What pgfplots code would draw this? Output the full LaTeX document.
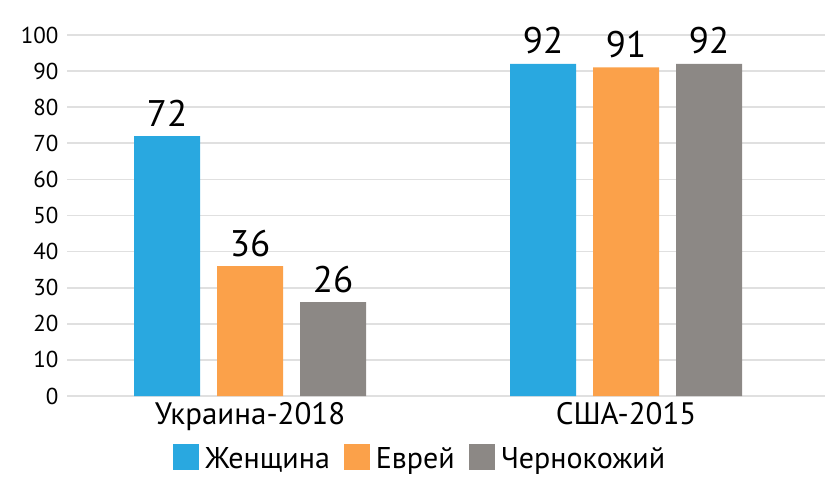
\documentclass[border=0pt]{standalone}
\usepackage{fontspec}
\setmainfont{PT Sans}
\usepackage{pgfplots}
\pgfplotsset{compat=1.18}
\definecolor{cBlue}{RGB}{41,168,224}
\definecolor{cOrange}{RGB}{251,161,74}
\definecolor{cGray}{RGB}{140,136,133}
\begin{document}
\begin{tikzpicture}
\begin{axis}[
  name=ax,
  scale only axis,
  width=758pt, height=361pt,
  ybar=17pt, bar width=66pt,
  xmin=-0.487, xmax=1.529,
  ymin=0, ymax=100,
  ytick={0,10,...,100},
  xtick={0,1},
  xticklabels={Украина-2018, США-2015},
  axis line style={draw=none},
  major tick length=0pt,
  ymajorgrids,
  major grid style={line width=1.6pt, color=black!12},
  /pgf/number format/assume math mode=true,
  yticklabel style={font=\fontsize{23}{26}\selectfont, xshift=-5pt},
  xticklabel style={font=\fontsize{31}{34}\selectfont, yshift=-3pt},
  nodes near coords,
  every node near coord/.append style={font=\fontsize{37}{40}\selectfont, black, yshift=6pt},
  clip=false,
  legend columns=3,
  legend style={at={(0.466,-0.172)}, anchor=center, draw=none, fill=none,
    inner sep=0pt, outer sep=0pt,
    font=\fontsize{30}{33}\selectfont,
    /tikz/every odd column/.append style={column sep=4pt},
    /tikz/every even column/.append style={column sep=12pt}},
  legend image code/.code={\fill[#1] (0pt,-12pt) rectangle (26pt,14pt);},
]
\addplot[draw=none, fill=cBlue] coordinates {(0,72) (1,92)};
\addplot[draw=none, fill=cOrange] coordinates {(0,36) (1,91)};
\addplot[draw=none, fill=cGray] coordinates {(0,26) (1,92)};
\legend{Женщина, Еврей, Чернокожий}
\end{axis}
\pgfresetboundingbox
\path[use as bounding box] ([xshift=-67pt,yshift=-81pt]ax.south west) rectangle ([yshift=35pt]ax.north east);
\end{tikzpicture}
\end{document}
